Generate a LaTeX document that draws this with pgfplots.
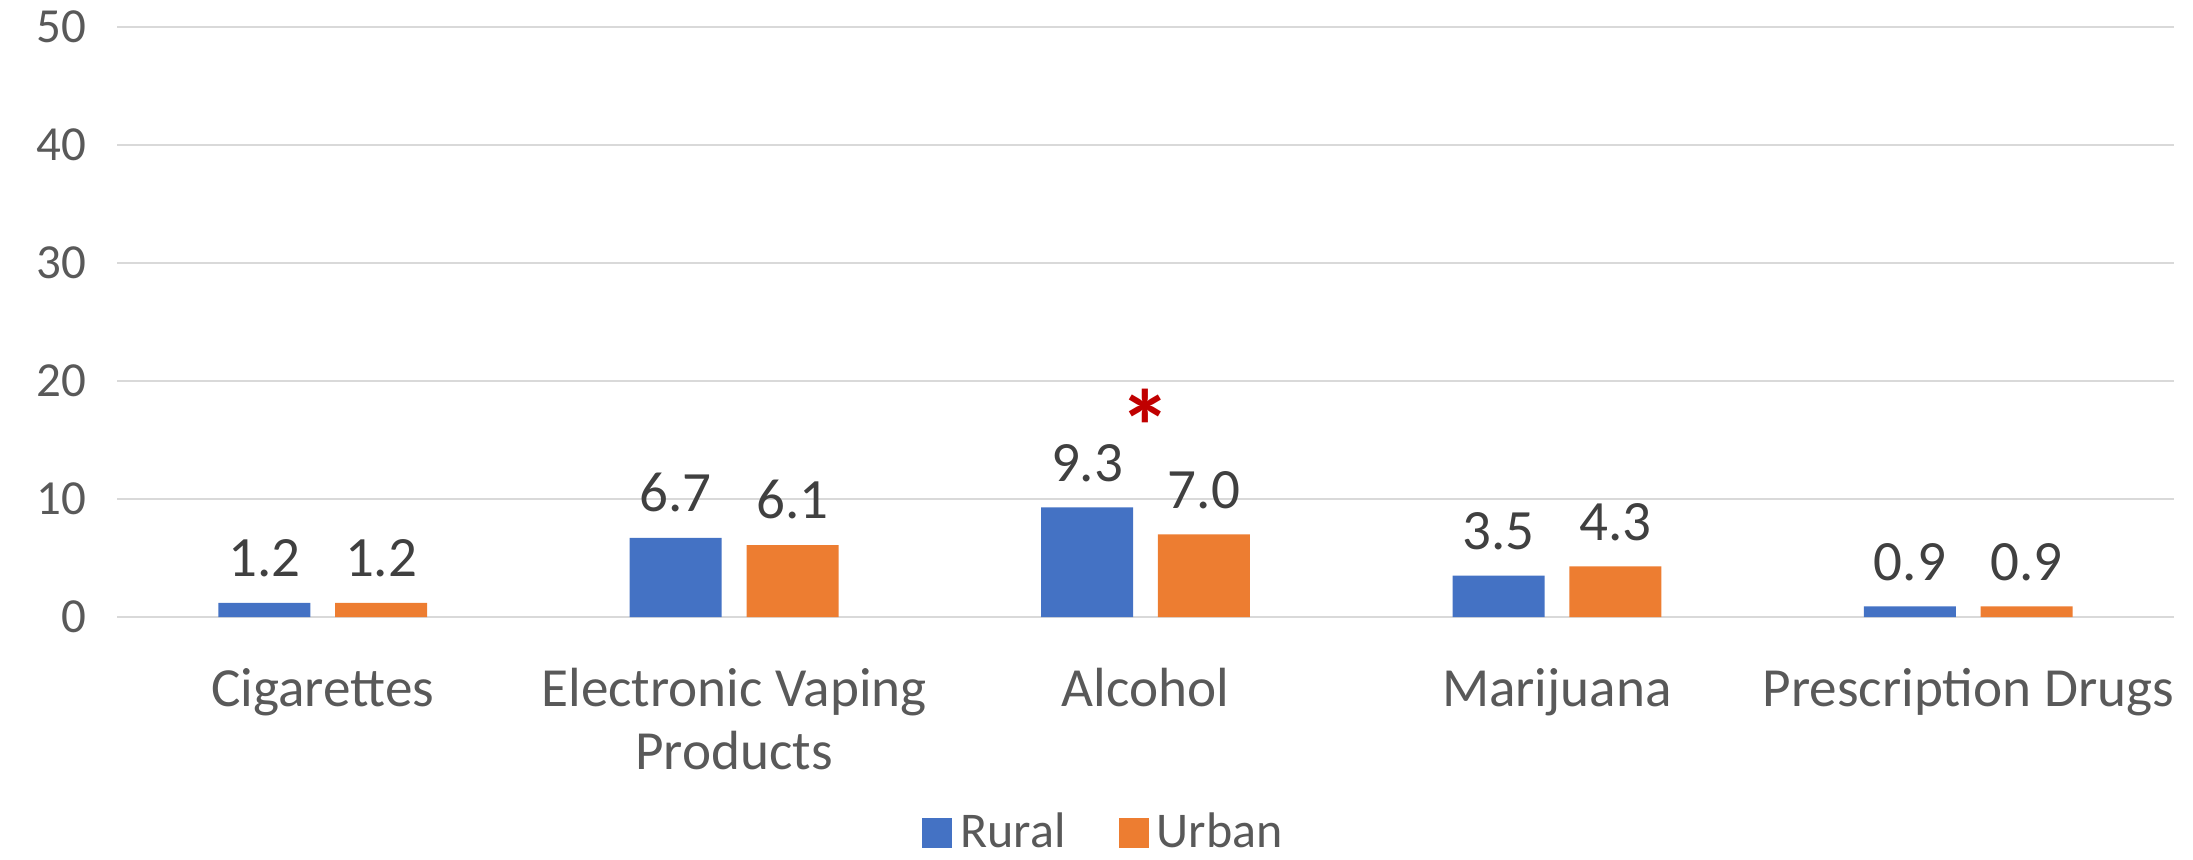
\documentclass[border=0pt]{standalone}
\usepackage{fontspec}
\setmainfont{Carlito}
\usepackage{pgfplots}
\pgfplotsset{compat=1.18}
\definecolor{rural}{HTML}{4472C4}
\definecolor{urban}{HTML}{ED7D31}
\definecolor{gridc}{HTML}{D9D9D9}
\definecolor{ticktxt}{HTML}{595959}
\definecolor{lbltxt}{HTML}{404040}
\definecolor{star}{HTML}{C00000}
\begin{document}
\begin{tikzpicture}
\begin{axis}[
  at={(29.25pt,60.5pt)}, anchor=south west,
  scale only axis,
  width=514.25pt, height=147.5pt,
  xmin=-0.5, xmax=4.5, ymin=0, ymax=50,
  ytick={0,10,20,30,40,50},
  xtick={0,1,2,3,4},
  xticklabels={Cigarettes,{Electronic Vaping\\Products},Alcohol,Marijuana,Prescription Drugs},
  axis line style={draw=none},
  major tick length=0pt,
  tick style={draw=none},
  ymajorgrids,
  grid style={gridc, line width=0.6pt},
  /pgf/number format/assume math mode=true,
  yticklabel style={anchor=east, inner sep=0pt, xshift=-7.5pt, font=\fontsize{12.25}{14}\selectfont, text=ticktxt},
  xticklabel style={anchor=north, inner sep=0pt, yshift=-12.6pt, align=center, font=\fontsize{13.8}{15.75}\selectfont, text=ticktxt},
  ybar, bar width=23pt,
  nodes near coords,
  nodes near coords style={anchor=south, inner sep=0pt, yshift=6.25pt, font=\fontsize{14.25}{16}\selectfont, text=lbltxt, /pgf/number format/.cd, fixed, fixed zerofill, precision=1, assume math mode=true},
  legend style={at={(0.481,-0.366)}, anchor=center, draw=none, fill=none,
    legend columns=-1, font=\fontsize{12.5}{14}\selectfont, text=ticktxt,
    /tikz/every even column/.append style={column sep=11.25pt}},
  legend image code/.code={\fill[#1,draw=none] (0pt,-3.75pt) rectangle (7.5pt,3.75pt);},
  legend cell align=left,
]
\addplot[fill=rural, draw=none, bar shift=-14.6pt] coordinates {(0,1.2) (1,6.7) (2,9.3) (3,3.5) (4,0.9)};
\addplot[fill=urban, draw=none, bar shift=14.6pt] coordinates {(0,1.2) (1,6.1) (2,7.0) (3,4.3) (4,0.9)};
\legend{Rural,Urban}
\node[anchor=north, inner sep=0pt, text=star, font=\fontsize{26}{28}\selectfont\bfseries] at (axis cs:2,19.4) {*};
\end{axis}
\pgfresetboundingbox
\useasboundingbox (0,0) rectangle (548.25pt,214.75pt);
\end{tikzpicture}
\end{document}
